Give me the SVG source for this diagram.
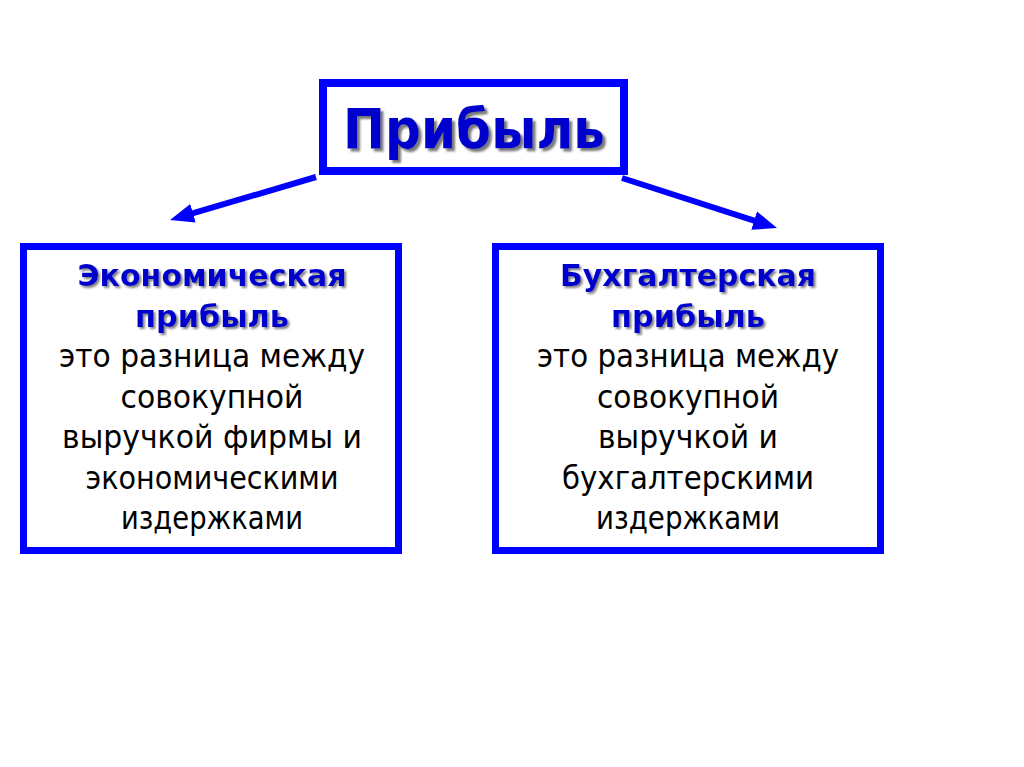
<svg xmlns="http://www.w3.org/2000/svg" width="1024" height="767" viewBox="0 0 1024 767">
  <style>
    .box { fill: #ffffff; stroke: #0000ff; }
    .conn { stroke: #0000ff; stroke-width: 6; fill: none; }
    .hd { font-family: "DejaVu Sans", Verdana, sans-serif; font-weight: bold; fill: #0000cc; text-anchor: middle; }
    .tx { font-family: "DejaVu Sans", Verdana, sans-serif; font-size: 32px; fill: #000000; text-anchor: middle; }
  </style>
  <defs>
    <filter id="sh" x="-10%" y="-30%" width="120%" height="160%">
      <feDropShadow dx="3" dy="3" stdDeviation="1.2" flood-color="#6a6a6a" flood-opacity="0.9"/>
    </filter>
    <filter id="sh2" x="-10%" y="-30%" width="120%" height="160%">
      <feDropShadow dx="2" dy="2" stdDeviation="1" flood-color="#6a6a6a" flood-opacity="0.85"/>
    </filter>
    <marker id="ah" viewBox="0 0 10 10" refX="1" refY="5" markerWidth="4" markerHeight="4" markerUnits="strokeWidth" orient="auto">
      <path d="M0,1 L10,5 L0,9 z" fill="#0000ff"/>
    </marker>
  </defs>
  <rect width="1024" height="767" fill="#ffffff"/>

  <g id="connectors">
    <line class="conn" x1="316" y1="177" x2="190.7" y2="213.9" marker-end="url(#ah)"/>
    <line class="conn" x1="622" y1="178" x2="756.4" y2="221.4" marker-end="url(#ah)"/>
  </g>

  <g id="profit">
    <rect class="box" x="323" y="83" width="301" height="88" stroke-width="8"/>
    <text class="hd" x="474" y="148" font-size="56" fill="#0000dd" textLength="262" lengthAdjust="spacingAndGlyphs" filter="url(#sh)">Прибыль</text>
  </g>

  <g id="economic">
    <rect class="box" x="23.5" y="246.5" width="375" height="304" stroke-width="7"/>
    <text class="hd" x="212" y="286" font-size="31" textLength="269" lengthAdjust="spacingAndGlyphs" filter="url(#sh2)">Экономическая</text>
    <text class="hd" x="212" y="326.5" font-size="31" textLength="154" lengthAdjust="spacingAndGlyphs" filter="url(#sh2)">прибыль</text>
    <text class="tx" x="212" y="367" textLength="306" lengthAdjust="spacingAndGlyphs">это разница между</text>
    <text class="tx" x="212" y="407.5" textLength="183" lengthAdjust="spacingAndGlyphs">совокупной</text>
    <text class="tx" x="212" y="448" textLength="300" lengthAdjust="spacingAndGlyphs">выручкой фирмы и</text>
    <text class="tx" x="212" y="488.5" textLength="253" lengthAdjust="spacingAndGlyphs">экономическими</text>
    <text class="tx" x="212" y="529" textLength="182" lengthAdjust="spacingAndGlyphs">издержками</text>
  </g>

  <g id="accounting">
    <rect class="box" x="495.5" y="246.5" width="385" height="304" stroke-width="7"/>
    <text class="hd" x="688" y="286" font-size="31" textLength="256" lengthAdjust="spacingAndGlyphs" filter="url(#sh2)">Бухгалтерская</text>
    <text class="hd" x="688" y="326.5" font-size="31" textLength="154" lengthAdjust="spacingAndGlyphs" filter="url(#sh2)">прибыль</text>
    <text class="tx" x="688" y="367" textLength="302" lengthAdjust="spacingAndGlyphs">это разница между</text>
    <text class="tx" x="688" y="407.5" textLength="182" lengthAdjust="spacingAndGlyphs">совокупной</text>
    <text class="tx" x="688" y="448" textLength="180" lengthAdjust="spacingAndGlyphs">выручкой и</text>
    <text class="tx" x="688" y="488.5" textLength="252" lengthAdjust="spacingAndGlyphs">бухгалтерскими</text>
    <text class="tx" x="688" y="529" textLength="184" lengthAdjust="spacingAndGlyphs">издержками</text>
  </g>
</svg>
